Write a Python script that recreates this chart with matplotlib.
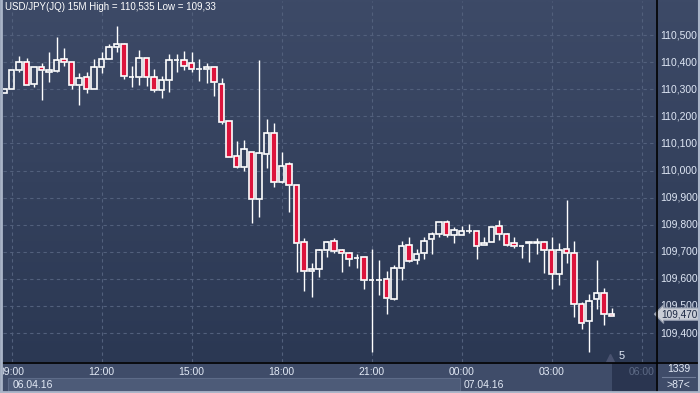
import numpy as np
import matplotlib
matplotlib.use("Agg")
import matplotlib.pyplot as plt
from matplotlib.colors import LinearSegmentedColormap
from matplotlib.patches import Rectangle
from matplotlib.lines import Line2D

plt.rcParams['font.family'] = ['Liberation Sans', 'DejaVu Sans']

# 15M bars, bar 0 = 06.04.16 09:00 (bar -1 is the partly visible 08:45 bar)
bar_idx = list(range(-1, 81))
opens = [110.285, 110.302, 110.371, 110.399, 110.318, 110.381, 110.365, 110.368, 110.410, 110.399,
         110.314, 110.344, 110.302, 110.381, 110.410, 110.455, 110.466, 110.345, 110.344, 110.414,
         110.344, 110.298, 110.333, 110.409, 110.409, 110.396, 110.373, 110.373, 110.383, 110.318,
         110.182, 110.052, 110.014, 110.067, 109.896, 110.062, 110.137, 109.958, 110.023, 109.945,
         109.735, 109.628, 109.638, 109.707, 109.739, 109.706, 109.694, 109.678, 109.680, 109.596,
         109.595, 109.599, 109.526, 109.639, 109.724, 109.669, 109.694, 109.746, 109.765, 109.809,
         109.761, 109.761, 109.776, 109.776, 109.724, 109.735, 109.794, 109.765, 109.731, 109.721,
         109.734, 109.734, 109.735, 109.706, 109.619, 109.709, 109.694, 109.509, 109.444, 109.525,
         109.547, 109.469]
highs = [110.300, 110.370, 110.423, 110.414, 110.381, 110.398, 110.436, 110.492, 110.451, 110.399,
         110.359, 110.365, 110.410, 110.436, 110.467, 110.535, 110.469, 110.386, 110.445, 110.414,
         110.375, 110.349, 110.430, 110.430, 110.441, 110.436, 110.410, 110.396, 110.383, 110.340,
         110.182, 110.109, 110.113, 110.069, 110.408, 110.190, 110.175, 110.068, 110.031, 109.945,
         109.750, 109.658, 109.710, 109.740, 109.750, 109.709, 109.698, 109.691, 109.680, 109.710,
         109.670, 109.629, 109.651, 109.739, 109.755, 109.709, 109.755, 109.772, 109.809, 109.816,
         109.790, 109.794, 109.801, 109.776, 109.753, 109.790, 109.817, 109.771, 109.753, 109.724,
         109.741, 109.750, 109.740, 109.753, 109.731, 109.891, 109.740, 109.514, 109.543, 109.670,
         109.565, 109.493]
lows = [110.285, 110.302, 110.365, 110.314, 110.309, 110.260, 110.328, 110.365, 110.387, 110.302,
        110.242, 110.285, 110.302, 110.359, 110.410, 110.436, 110.339, 110.309, 110.315, 110.313,
        110.291, 110.269, 110.291, 110.365, 110.371, 110.365, 110.331, 110.324, 110.276, 110.173,
        110.049, 110.010, 109.999, 109.807, 109.830, 110.010, 109.940, 109.955, 109.848, 109.627,
        109.557, 109.532, 109.608, 109.682, 109.694, 109.627, 109.649, 109.639, 109.564, 109.330,
        109.541, 109.472, 109.523, 109.595, 109.661, 109.654, 109.673, 109.691, 109.754, 109.754,
        109.734, 109.761, 109.768, 109.675, 109.724, 109.735, 109.744, 109.720, 109.713, 109.678,
        109.663, 109.691, 109.623, 109.564, 109.579, 109.658, 109.461, 109.416, 109.331, 109.490,
        109.431, 109.462]
closes = [110.300, 110.370, 110.399, 110.314, 110.381, 110.370, 110.370, 110.407, 110.399, 110.314,
          110.340, 110.300, 110.381, 110.410, 110.455, 110.466, 110.348, 110.345, 110.414, 110.344,
          110.298, 110.333, 110.407, 110.409, 110.387, 110.373, 110.373, 110.381, 110.325, 110.180,
          110.049, 110.014, 110.078, 109.896, 110.063, 110.137, 109.956, 110.016, 109.945, 109.731,
          109.628, 109.635, 109.706, 109.735, 109.704, 109.694, 109.675, 109.678, 109.595, 109.596,
          109.595, 109.528, 109.639, 109.720, 109.665, 109.691, 109.739, 109.765, 109.809, 109.761,
          109.779, 109.776, 109.776, 109.720, 109.731, 109.790, 109.765, 109.724, 109.720, 109.721,
          109.734, 109.734, 109.708, 109.619, 109.706, 109.694, 109.509, 109.436, 109.517, 109.547,
          109.469, 109.462]

time_ticks = [0, 12, 24, 36, 48, 60, 72, 84]
time_labels = ['09:00', '12:00', '15:00', '18:00', '21:00', '00:00', '03:00', '06:00']
price_ticks = [109.4, 109.5, 109.6, 109.7, 109.8, 109.9, 110.0, 110.1, 110.2, 110.3, 110.4, 110.5]
price_labels = ['109,400', '109,500', '109,600', '109,700', '109,800', '109,900',
                '110,000', '110,100', '110,200', '110,300', '110,400', '110,500']
title = 'USD/JPY(JQ) 15M High = 110,535 Low = 109,33'
last_price = 109.470
last_label = '109,470'

W, H = 700, 393
fig = plt.figure(figsize=(W / 100, H / 100), dpi=100)
fig.patch.set_facecolor('#3d4a67')

def px_rect(x0, y0, x1, y1):
    # pixel box (top-left origin) -> figure fraction rect
    return [x0 / W, (H - y1) / H, (x1 - x0) / W, (y1 - y0) / H]

xmin = -8.5 / 7.5
xmax = xmin + 653 / 7.5
ymax = 110.5 + 34 / 271
ymin = ymax - 361 / 271

top_col, bot_col = '#3d4a67', '#2b3853'
grad = LinearSegmentedColormap.from_list('bg', [bot_col, top_col])
gvals = np.linspace(0, 1, 256).reshape(-1, 1)

ax = fig.add_axes(px_rect(3, 1, 656, 362))
ax.imshow(gvals, extent=[xmin, xmax, ymin, ymax], origin='lower', aspect='auto', cmap=grad, zorder=0)
ax.set_xlim(xmin, xmax)
ax.set_ylim(ymin, ymax)
ax.set_xticks(time_ticks)
ax.set_yticks(price_ticks)
ax.tick_params(length=0, labelbottom=False, labelleft=False)
ax.grid(True, color='#52607c', linestyle=(0, (3, 3)), linewidth=0.8, zorder=1)
for s in ax.spines.values():
    s.set_visible(False)

# candles
x = np.array(bar_idx)
o = np.array(opens); h = np.array(highs); l = np.array(lows); c = np.array(closes)
top = np.maximum(o, c); bot = np.minimum(o, c)
ax.vlines(x, top, h, color='white', linewidth=1, zorder=3)
ax.vlines(x, l, bot, color='white', linewidth=1, zorder=3)
down = c < o
ax.bar(x[~down], np.maximum(top - bot, 0.0005)[~down], bottom=bot[~down], width=0.72,
       facecolor='none', edgecolor='white', linewidth=1.2, zorder=4)
ax.bar(x[down], (top - bot)[down], bottom=bot[down], width=0.72,
       facecolor='#dc143c', edgecolor='white', linewidth=1.2, zorder=4)

ax.text(0.003, 0.982, title, transform=ax.transAxes, color='white', fontsize=7,
        ha='left', va='center', zorder=6)
ax.plot([0.9296], [0.012], marker='^', markersize=6, color='#4a5370',
        transform=ax.transAxes, clip_on=False, zorder=5)
ax.text(0.942, 0.018, '5', transform=ax.transAxes, color='#dfe7f5', fontsize=8,
        ha='left', va='center', zorder=6)

# right price axis
axr = fig.add_axes(px_rect(657, 1, 700, 362))
axr.imshow(gvals, extent=[0, 1, ymin, ymax], origin='lower', aspect='auto', cmap=grad, zorder=0)
axr.set_xlim(0, 1)
axr.set_ylim(ymin, ymax)
axr.axis('off')
for p, lab in zip(price_ticks, price_labels):
    axr.text(0.07, p, lab, color='#dfe7f5', fontsize=7.5, ha='left', va='center', zorder=2)
axr.text(0.09, last_price, last_label, color='#1e2a45', fontsize=7.2, ha='left', va='center',
         zorder=5, clip_on=False,
         bbox=dict(boxstyle='larrow,pad=0.12', facecolor='#c9cdd6', edgecolor='#8f98aa', linewidth=0.8))

# bottom time axis
axb = fig.add_axes(px_rect(3, 363, 656, 392))
axb.set_facecolor('#3f4c69')
axb.set_xlim(xmin, xmax)
axb.set_ylim(0, 1)
axb.set_xticks([]); axb.set_yticks([])
for s in axb.spines.values():
    s.set_visible(False)
axb.add_patch(Rectangle((-0.47, 0.04), 60.3, 0.45, facecolor='#4d5b78', edgecolor='#5d6b88',
                        linewidth=0.8, zorder=1))
axb.add_patch(Rectangle((80.1, 0.0), xmax - 80.1, 1.0, facecolor='#2a3550', edgecolor='none', zorder=1))
for t, lab in zip(time_ticks, time_labels):
    col = '#5d6a85' if lab == '06:00' else '#e3eaf6'
    txt = axb.text(t, 0.68, lab, color=col, fontsize=7.5, ha='center', va='center', zorder=3)
    txt.set_clip_on(True)
axb.text(0.1, 0.25, '06.04.16', color='#e3eaf6', fontsize=7.5, ha='left', va='center', zorder=3)
axb.text(60.3, 0.25, '07.04.16', color='#e3eaf6', fontsize=7.5, ha='left', va='center', zorder=3)

# bottom-right corner box
axc = fig.add_axes(px_rect(657, 363, 700, 392))
axc.set_facecolor('#3f4c69')
axc.set_xlim(0, 1); axc.set_ylim(0, 1)
axc.set_xticks([]); axc.set_yticks([])
for s in axc.spines.values():
    s.set_visible(False)
axc.text(0.5, 0.78, '1339', color='#e3eaf6', fontsize=7.5, ha='center', va='center')
axc.plot([0.12, 0.88], [0.52, 0.52], color='#6f7c97', linewidth=0.8)
axc.text(0.5, 0.25, '>87<', color='#e3eaf6', fontsize=7.5, ha='center', va='center')

# separators and outer frame (left, right, bottom)
fig.add_artist(Line2D([656.5 / W, 656.5 / W], [0, 1], color='black', linewidth=1.2))
fig.add_artist(Line2D([3 / W, 1], [(H - 362.5) / H, (H - 362.5) / H], color='black', linewidth=1.2))
frame = '#aab5c8'
fig.add_artist(Line2D([1 / W, 1 / W], [0, 1], color=frame, linewidth=2))
fig.add_artist(Line2D([1 - 1 / W, 1 - 1 / W], [0, 1], color=frame, linewidth=1.5))
fig.add_artist(Line2D([0, 1], [1 / H, 1 / H], color=frame, linewidth=2))

fig.savefig('out.png', dpi=100, facecolor=fig.get_facecolor())
